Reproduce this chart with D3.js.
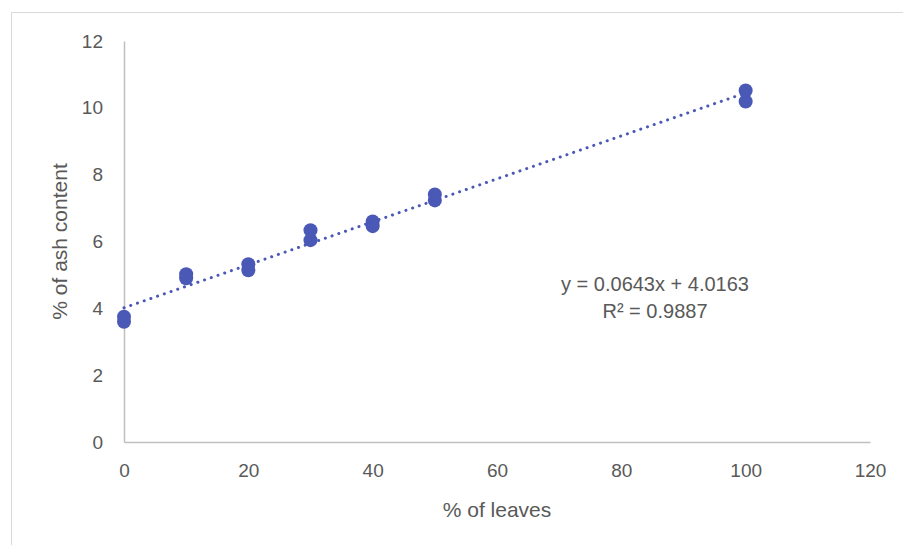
<!DOCTYPE html>
<html>
<head>
<meta charset="utf-8">
<script src="https://cdn.jsdelivr.net/npm/d3@7"></script>
<style>
  body { margin: 0; background: #fff; }
  text { font-family: "Liberation Sans", "DejaVu Sans", sans-serif; fill: #595959; }
</style>
</head>
<body>
<div id="chart"></div>
<script>
// Scatter of ash content against leaf share, with linear trendline

const leafPct = [0, 0, 10, 10, 20, 20, 30, 30, 40, 40, 50, 50, 100, 100]
const ashPct = [3.6, 3.75, 4.9, 5.02, 5.14, 5.32, 6.04, 6.34, 6.46, 6.6, 7.23, 7.41, 10.19, 10.52]
const xTicks = [0, 20, 40, 60, 80, 100, 120]
const yTicks = [0, 2, 4, 6, 8, 10, 12]
const slope = 0.0643
const intercept = 4.0163
const eqLines = ["y = 0.0643x + 4.0163", "R² = 0.9887"]

const W = 903, H = 545
const margin = { top: 41, right: 33, bottom: 103, left: 124 }
const width = W - margin.left - margin.right
const height = H - margin.top - margin.bottom
const color = "#4a58b6"

const svg = d3.select("#chart").append("svg").attr("width", W).attr("height", H)

// chart frame
svg.append("rect")
  .attr("x", 11.5).attr("y", 12.5)
  .attr("width", W).attr("height", H)
  .attr("fill", "none").attr("stroke", "#d9d9d9")

const g = svg.append("g").attr("transform", `translate(${margin.left},${margin.top})`)

const x = d3.scaleLinear().domain([0, 120]).range([0, width])
const y = d3.scaleLinear().domain([0, 12]).range([height, 0])

// axes
const xAxis = g.append("g")
  .attr("transform", `translate(0,${height})`)
  .call(d3.axisBottom(x).tickValues(xTicks).tickSize(0).tickPadding(22))
const yAxis = g.append("g")
  .call(d3.axisLeft(y).tickValues(yTicks).tickSize(0).tickPadding(21))

xAxis.select(".domain").attr("stroke", "#bfbfbf").attr("stroke-width", 1.5)
yAxis.select(".domain").attr("stroke", "#bfbfbf").attr("stroke-width", 1.5)
g.selectAll(".tick text").style("font-size", "19px").attr("fill", "#595959")

// axis titles
g.append("text")
  .attr("transform", `translate(${60 - margin.left},${height / 2}) rotate(-90)`)
  .attr("text-anchor", "middle").attr("dy", "0.35em")
  .style("font-size", "21px")
  .text("% of ash content")

g.append("text")
  .attr("x", 497 - margin.left).attr("y", 510 - margin.top)
  .attr("text-anchor", "middle").attr("dy", "0.35em")
  .style("font-size", "21px")
  .text("% of leaves")

// points
const pts = leafPct.map((v, i) => ({ x: v, y: ashPct[i] }))
g.selectAll(".dot")
  .data(pts)
  .enter()
  .append("circle")
  .attr("class", "dot")
  .attr("cx", (d) => x(d.x))
  .attr("cy", (d) => y(d.y))
  .attr("r", 7)
  .attr("fill", color)

// dotted trendline
const xr = d3.extent(leafPct)
g.append("line")
  .attr("x1", x(xr[0])).attr("y1", y(slope * xr[0] + intercept))
  .attr("x2", x(xr[1])).attr("y2", y(slope * xr[1] + intercept))
  .attr("stroke", color).attr("stroke-width", 3)
  .attr("stroke-linecap", "round")
  .attr("stroke-dasharray", "0.1 7")

// equation label
g.append("text")
  .attr("x", 655 - margin.left).attr("y", 284 - margin.top)
  .attr("text-anchor", "middle")
  .style("font-size", "20px")
  .selectAll("tspan")
  .data(eqLines)
  .enter()
  .append("tspan")
  .attr("x", 655 - margin.left)
  .attr("dy", (d, i) => (i === 0 ? "0.35em" : "1.35em"))
  .text((d) => d)
</script>
</body>
</html>
